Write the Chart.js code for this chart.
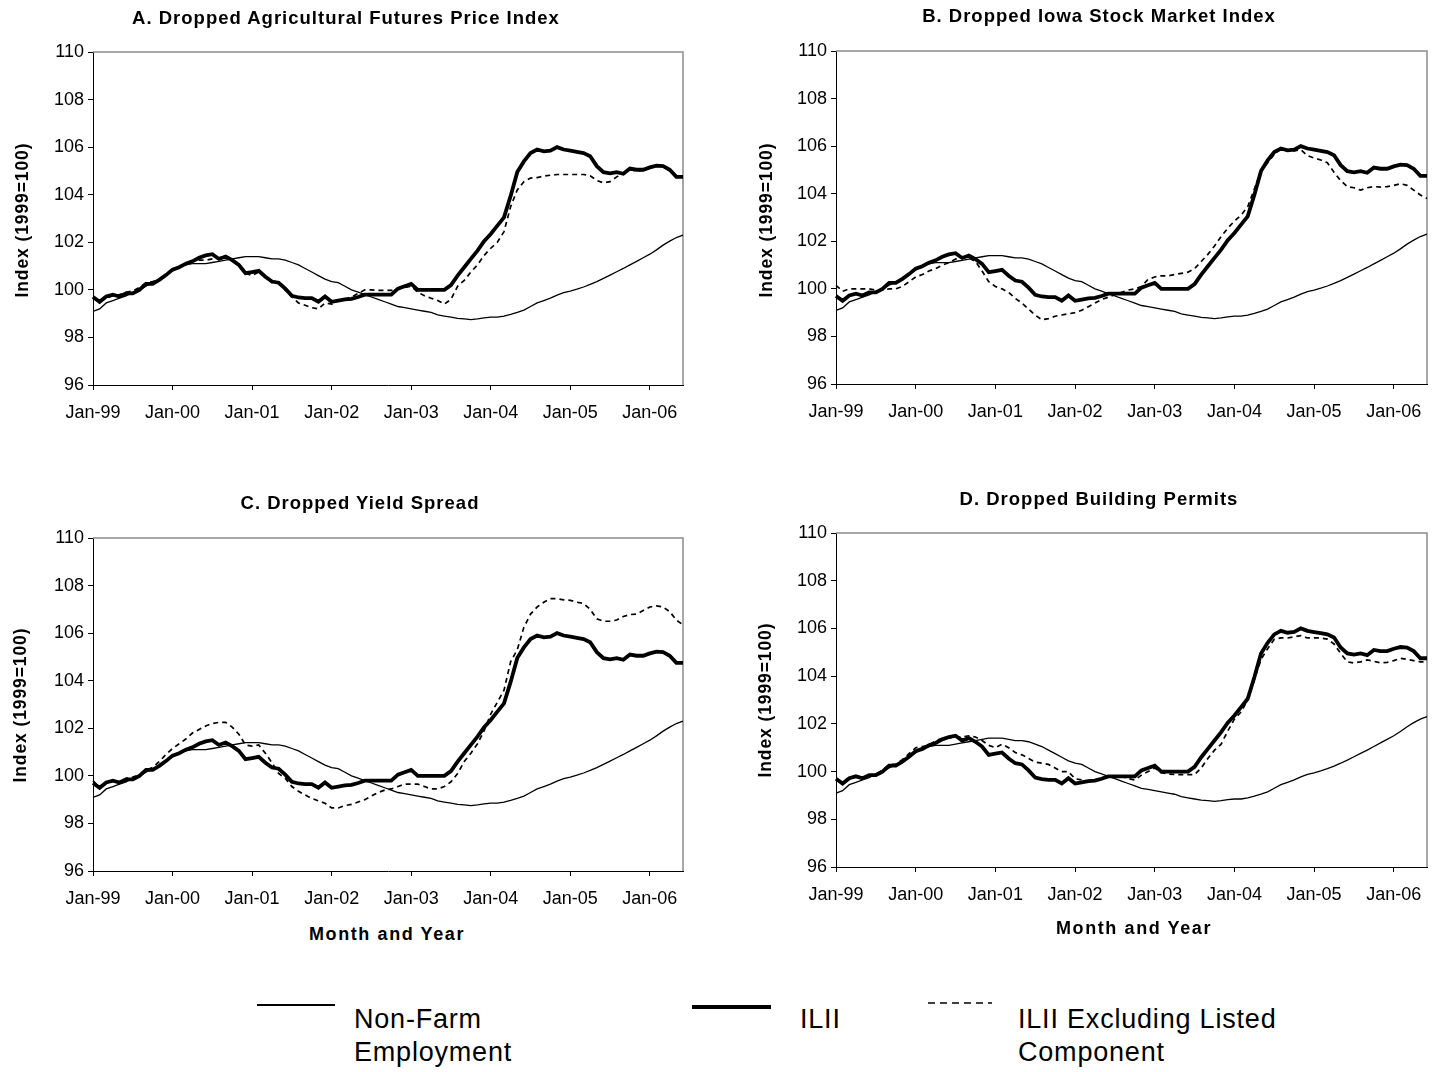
<!DOCTYPE html>
<html>
<head>
<meta charset="utf-8">
<script src="https://cdn.jsdelivr.net/npm/chart.js@4.4.1/dist/chart.umd.min.js"></script>
<style>
  html, body { margin: 0; padding: 0; background: #fff; }
  #page { position: relative; width: 1435px; height: 1072px; overflow: hidden; font-family: "Liberation Sans", Arial, sans-serif; color: #000; }
  canvas { position: absolute; }
  .ttl { position: absolute; font-weight: bold; font-size: 18.5px; line-height: 1; letter-spacing: 1px; white-space: nowrap; transform: translate(-50%, -50%); }
  .ytl { position: absolute; font-weight: bold; font-size: 17.5px; line-height: 1; letter-spacing: 0.9px; white-space: nowrap; transform: translate(-50%, -50%) rotate(-90deg); }
  .xtl { position: absolute; font-weight: bold; font-size: 18px; line-height: 1; letter-spacing: 1.6px; white-space: nowrap; transform: translate(-50%, -50%); }
  .lgt { position: absolute; font-size: 27px; line-height: 33px; letter-spacing: 0.8px; white-space: nowrap; }
  .lgl { position: absolute; background: #000; }
</style>
</head>
<body>
<div id="page">
  <canvas id="cA" width="700" height="440" style="left:0px;top:0px;width:700px;height:440px"></canvas>
  <canvas id="cB" width="695" height="440" style="left:740px;top:0px;width:695px;height:440px"></canvas>
  <canvas id="cC" width="700" height="440" style="left:0px;top:480px;width:700px;height:440px"></canvas>
  <canvas id="cD" width="695" height="440" style="left:740px;top:480px;width:695px;height:440px"></canvas>

  <div class="ttl" style="left:346px;top:18px">A. Dropped Agricultural Futures Price Index</div>
  <div class="ttl" style="left:1099px;top:16px">B. Dropped Iowa Stock Market Index</div>
  <div class="ttl" style="left:360px;top:503px">C. Dropped Yield Spread</div>
  <div class="ttl" style="left:1099px;top:499px">D. Dropped Building Permits</div>

  <div class="ytl" style="left:23px;top:220px">Index (1999=100)</div>
  <div class="ytl" style="left:767px;top:220px">Index (1999=100)</div>
  <div class="ytl" style="left:21px;top:705px">Index (1999=100)</div>
  <div class="ytl" style="left:766px;top:700px">Index (1999=100)</div>

  <div class="xtl" style="left:387px;top:934px">Month and Year</div>
  <div class="xtl" style="left:1134px;top:928px">Month and Year</div>

  <div class="lgl" style="left:257px;top:1004px;width:78px;height:1.5px"></div>
  <div class="lgt" style="left:354px;top:1003px">Non-Farm<br>Employment</div>
  <div class="lgl" style="left:692px;top:1005px;width:79px;height:4px"></div>
  <div class="lgt" style="left:800px;top:1003px">ILII</div>
  <svg style="position:absolute;left:928px;top:1000px" width="64" height="6"><line x1="0" y1="3" x2="64" y2="3" stroke="#000" stroke-width="1.6" stroke-dasharray="7 5"/></svg>
  <div class="lgt" style="left:1018px;top:1003px">ILII Excluding Listed<br>Component</div>
</div>

<script>
// Monthly observations, Jan-1999 through Jun-2006
const monthNames = ['Jan','Feb','Mar','Apr','May','Jun','Jul','Aug','Sep','Oct','Nov','Dec'];
const years = ['99','00','01','02','03','04','05','06'];
const months = [];
years.forEach(y => monthNames.forEach(m => months.push(m + '-' + y)));
months.length = 90;

const yTicks = [96, 98, 100, 102, 104, 106, 108, 110];

const nonFarm = [
  99.1, 99.2, 99.45, 99.55, 99.65, 99.75, 99.9, 100.0, 100.15, 100.3, 100.4, 100.6,
  100.8, 100.95, 101.05, 101.1, 101.1, 101.1, 101.15, 101.2, 101.25, 101.3, 101.35, 101.4,
  101.4, 101.4, 101.35, 101.3, 101.3, 101.25, 101.15, 101.05, 100.9, 100.75, 100.6, 100.45,
  100.35, 100.3, 100.15, 100.0, 99.9, 99.8, 99.7, 99.6, 99.5, 99.4, 99.3, 99.25,
  99.2, 99.15, 99.1, 99.05, 98.95, 98.9, 98.85, 98.8, 98.78, 98.75, 98.78, 98.82,
  98.85, 98.85, 98.9, 98.97, 99.05, 99.15, 99.3, 99.45, 99.55, 99.65, 99.78, 99.88,
  99.95, 100.03, 100.12, 100.23, 100.35, 100.48, 100.62, 100.76, 100.9, 101.05, 101.2, 101.35,
  101.5, 101.68, 101.88, 102.05, 102.2, 102.3
];

const ilii = [
  99.7, 99.5, 99.72, 99.8, 99.72, 99.85, 99.85, 100.0, 100.25, 100.25, 100.42, 100.62,
  100.85, 100.95, 101.1, 101.2, 101.35, 101.45, 101.5, 101.3, 101.4, 101.25, 101.05, 100.7,
  100.75, 100.8, 100.55, 100.35, 100.3, 100.05, 99.75, 99.68, 99.65, 99.65, 99.5, 99.72,
  99.5, 99.55, 99.6, 99.62, 99.7, 99.8, 99.8, 99.8, 99.8, 99.8, 100.05, 100.15,
  100.25, 100.0, 100.0, 100.0, 100.0, 100.0, 100.2, 100.6, 100.95, 101.3, 101.65, 102.05,
  102.35, 102.7, 103.05, 103.95, 104.95, 105.4, 105.75, 105.9, 105.82, 105.85, 106.0, 105.9,
  105.85, 105.8, 105.75, 105.62, 105.2, 104.95, 104.9, 104.95, 104.88, 105.1, 105.05, 105.05,
  105.15, 105.22, 105.2, 105.05, 104.75, 104.75
];

// ILII recomputed with one component left out
const exclAgFutures = [
  99.7, 99.5, 99.65, 99.75, 99.8, 99.9, 99.95, 100.1, 100.3, 100.35, 100.45, 100.6,
  100.85, 100.95, 101.1, 101.2, 101.25, 101.25, 101.3, 101.35, 101.4, 101.3, 101.0, 100.7,
  100.6, 100.75, 100.55, 100.3, 100.3, 100.0, 99.7, 99.45, 99.35, 99.25, 99.2, 99.45,
  99.4, 99.55, 99.6, 99.7, 99.85, 100.0, 100.0, 99.98, 99.98, 99.98, 100.05, 100.1,
  100.15, 99.9, 99.75, 99.65, 99.55, 99.4, 99.6, 100.15, 100.4, 100.75, 101.05, 101.45,
  101.75, 102.0, 102.45, 103.5, 104.2, 104.55, 104.7, 104.72, 104.78, 104.82, 104.85, 104.85,
  104.85, 104.85, 104.85, 104.8, 104.6, 104.5, 104.55, 104.75, 104.9, 105.05, 105.0, 105.02,
  105.12, 105.2, 105.18, 105.0, 104.75, 104.75
];

const exclIowaStocks = [
  100.15, 99.9, 100.0, 100.0, 100.0, 100.0, 99.95, 99.95, 100.0, 100.0, 100.1, 100.3,
  100.5, 100.6, 100.75, 100.85, 101.0, 101.1, 101.25, 101.3, 101.3, 101.15, 100.75, 100.3,
  100.1, 100.0, 99.85, 99.6, 99.4, 99.15, 98.9, 98.7, 98.75, 98.85, 98.9, 98.95,
  99.0, 99.1, 99.25, 99.4, 99.55, 99.65, 99.75, 99.85, 99.95, 100.0, 100.1, 100.4,
  100.5, 100.55, 100.55, 100.6, 100.65, 100.7, 100.85, 101.15, 101.45, 101.8, 102.2, 102.55,
  102.85, 103.1, 103.45, 104.2, 104.95, 105.3, 105.65, 105.9, 105.8, 105.8, 105.85, 105.6,
  105.5, 105.42, 105.3, 104.9, 104.55, 104.3, 104.25, 104.15, 104.25, 104.3, 104.28, 104.3,
  104.35, 104.42, 104.35, 104.15, 103.95, 103.8
];

const exclYieldSpread = [
  99.8, 99.5, 99.7, 99.8, 99.75, 99.9, 99.95, 100.05, 100.25, 100.35, 100.6, 100.9,
  101.15, 101.35, 101.55, 101.8, 101.95, 102.1, 102.2, 102.25, 102.25, 102.05, 101.75, 101.3,
  101.25, 101.3, 100.95, 100.55, 100.1, 99.9, 99.55, 99.35, 99.2, 99.05, 98.95, 98.85,
  98.65, 98.65, 98.75, 98.8, 98.9, 99.0, 99.15, 99.3, 99.4, 99.45, 99.55, 99.65,
  99.65, 99.65, 99.55, 99.45, 99.45, 99.55, 99.75, 100.1, 100.6, 100.95, 101.35, 101.9,
  102.6, 103.1, 103.6, 104.8, 105.3, 106.25, 106.8, 107.1, 107.3, 107.45, 107.45, 107.4,
  107.38, 107.3, 107.25, 107.0, 106.6, 106.5, 106.5, 106.55, 106.7, 106.78, 106.8, 106.95,
  107.1, 107.15, 107.1, 106.9, 106.55, 106.35
];

const exclBuildingPermits = [
  99.7, 99.5, 99.7, 99.8, 99.75, 99.85, 99.9, 100.05, 100.3, 100.3, 100.5, 100.75,
  101.0, 101.05, 101.1, 101.3, 101.38, 101.4, 101.45, 101.45, 101.5, 101.45, 101.3, 101.1,
  101.0, 101.15, 101.0, 100.8, 100.7, 100.55, 100.4, 100.35, 100.3, 100.15, 100.0, 100.0,
  99.7, 99.65, 99.6, 99.65, 99.75, 99.8, 99.8, 99.8, 99.7, 99.65, 99.85, 100.0,
  100.15, 99.95, 99.9, 99.88, 99.87, 99.87, 99.87, 100.15, 100.55, 100.9, 101.15, 101.7,
  102.2, 102.5, 103.0, 103.85, 104.7, 105.15, 105.55, 105.6, 105.6, 105.65, 105.7, 105.6,
  105.6, 105.6, 105.55, 105.35, 104.95, 104.6, 104.55, 104.6, 104.68, 104.62, 104.56, 104.58,
  104.65, 104.75, 104.7, 104.65, 104.6, 104.6
];

const tickFont = { family: '"Liberation Sans", Arial, sans-serif', size: 18 };

// Grey top and right edges of the plot area
const plotFrame = {
  id: 'plotFrame',
  beforeDatasetsDraw(chart) {
    const a = chart.chartArea, ctx = chart.ctx;
    ctx.save();
    ctx.strokeStyle = '#8c8c8c';
    ctx.lineWidth = 1.5;
    ctx.beginPath();
    ctx.moveTo(a.left, a.top);
    ctx.lineTo(a.right, a.top);
    ctx.lineTo(a.right, a.bottom);
    ctx.stroke();
    ctx.restore();
  }
};

function makePanel(id, excluded, box) {
  new Chart(document.getElementById(id), {
    type: 'line',
    data: {
      labels: months,
      datasets: [
        { label: 'ILII', data: ilii, borderColor: '#000', borderWidth: 3.8, pointRadius: 0, tension: 0, fill: false },
        { label: 'Non-Farm Employment', data: nonFarm, borderColor: '#000', borderWidth: 1.3, pointRadius: 0, tension: 0, fill: false },
        { label: 'ILII Excluding Listed Component', data: excluded, borderColor: '#000', borderWidth: 1.7, borderDash: [5, 4], pointRadius: 0, tension: 0, fill: false }
      ]
    },
    options: {
      responsive: false,
      animation: false,
      events: [],
      layout: { padding: { left: 0, right: box.right, top: box.top, bottom: 0 } },
      plugins: { legend: { display: false }, tooltip: { enabled: false }, title: { display: false } },
      scales: {
        x: {
          type: 'category',
          offset: false,
          border: { display: true, color: '#000', width: 1 },
          grid: { display: true, drawOnChartArea: false, drawTicks: true, tickLength: 5, color: '#000' },
          ticks: {
            autoSkip: false, maxRotation: 0, minRotation: 0, padding: 12, color: '#000', font: tickFont,
            callback: (v, i) => (i % 12 === 0 ? months[i] : null)
          },
          afterFit: s => { s.height = box.xh; }
        },
        y: {
          min: yTicks[0], max: yTicks[yTicks.length - 1],
          border: { display: true, color: '#000', width: 1 },
          grid: { display: true, drawOnChartArea: false, drawTicks: true, tickLength: 5, color: '#000' },
          ticks: { stepSize: 2, padding: 4, color: '#000', font: tickFont },
          afterBuildTicks: s => { s.ticks = yTicks.map(v => ({ value: v })); },
          afterFit: s => { s.width = box.yw; }
        }
      }
    },
    plugins: [plotFrame]
  });
}

makePanel('cA', exclAgFutures,       { yw: 93, right: 17, top: 52, xh: 55 });
makePanel('cB', exclIowaStocks,      { yw: 96, right: 8,  top: 51, xh: 56 });
makePanel('cC', exclYieldSpread,     { yw: 93, right: 17, top: 58, xh: 49 });
makePanel('cD', exclBuildingPermits, { yw: 96, right: 8,  top: 53, xh: 53 });
</script>
</body>
</html>
